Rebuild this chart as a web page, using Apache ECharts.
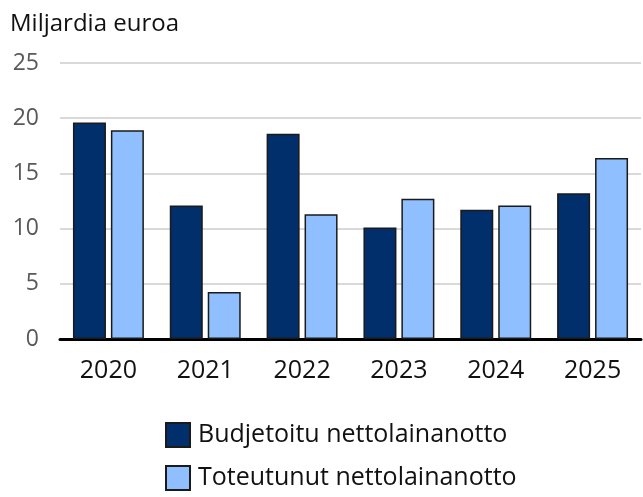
<!DOCTYPE html>
<html>
<head>
<meta charset="utf-8">
<script src="https://cdn.jsdelivr.net/npm/echarts@6/dist/echarts.min.js"></script>
<style>
html,body{margin:0;padding:0;background:#fff;}
#chart{width:643px;height:497px;}
</style>
</head>
<body>
<div id="chart"></div>
<script>
var years = ["2020", "2021", "2022", "2023", "2024", "2025"];
var budjetoitu = [19.6, 12.1, 18.6, 10.1, 11.7, 13.2];
var toteutunut = [18.9, 4.25, 11.3, 12.7, 12.1, 16.4];
var seriesNames = ["Budjetoitu nettolainanotto", "Toteutunut nettolainanotto"];
var yTicks = [0, 5, 10, 15, 20, 25];

var font = "'Open Sans', 'Noto Sans', sans-serif";
var legendText = {fontFamily: font, fontSize: 25, color: "#111", padding: [0, 0, 0, 3]};
var myChart = echarts.init(document.getElementById('chart'));
var option = {
	animation: false,
	title: {
		text: "Miljardia euroa",
		left: 10,
		top: 12,
		padding: 0,
		textStyle: {fontFamily: font, fontSize: 24, fontWeight: "normal", color: "#111"}
	},
	legend: [{
		left: 165,
		top: 422,
		itemWidth: 24,
		itemHeight: 24,
		padding: 0,
		icon: "rect",
		data: [seriesNames[0]],
		textStyle: legendText
	}, {
		left: 165,
		top: 465,
		itemWidth: 24,
		itemHeight: 24,
		padding: 0,
		icon: "rect",
		data: [seriesNames[1]],
		textStyle: legendText
	}],
	grid: {left: 60, right: 2, top: 63, bottom: 158, containLabel: false},
	xAxis: [{
		type: "category",
		data: years,
		axisLine: {lineStyle: {color: "#000", width: 3}},
		axisTick: {show: false},
		axisLabel: {fontFamily: font, fontSize: 25, color: "#111", margin: 19}
	}],
	yAxis: [{
		type: "value",
		min: yTicks[0],
		max: yTicks[yTicks.length - 1],
		interval: 5,
		axisLine: {show: false},
		axisTick: {show: false},
		splitLine: {lineStyle: {color: "#d9d9d9", width: 2}},
		axisLabel: {fontFamily: font, fontSize: 23, color: "#595959", margin: 21}
	}],
	series: [{
		name: seriesNames[0],
		type: "bar",
		data: budjetoitu,
		barWidth: 33,
		barGap: "15%",
		itemStyle: {color: "#002f6c", borderColor: "#1a1a1a", borderWidth: 1.5}
	}, {
		name: seriesNames[1],
		type: "bar",
		data: toteutunut,
		barWidth: 33,
		barGap: "15%",
		itemStyle: {color: "#8fbfff", borderColor: "#1a1a1a", borderWidth: 1.5}
	}]
};
myChart.setOption(option);
</script>
</body>
</html>
